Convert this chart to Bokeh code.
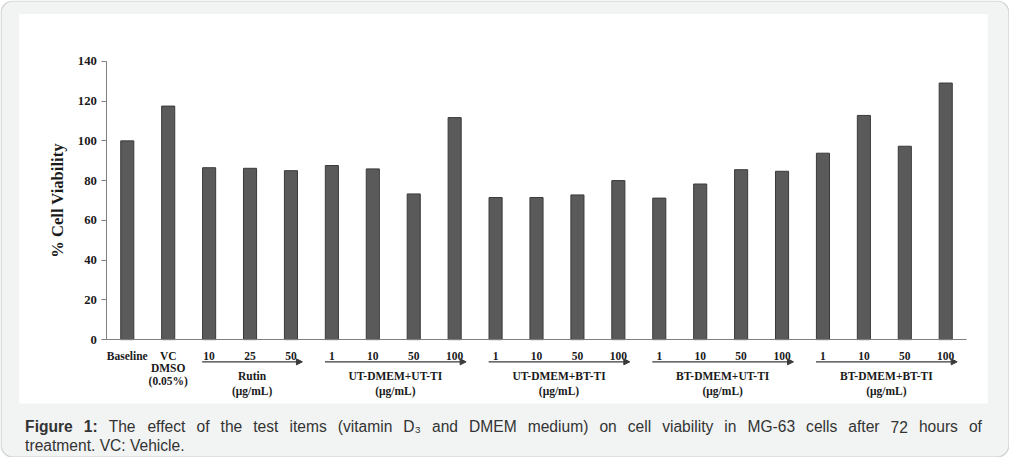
from bokeh.plotting import figure
from bokeh.models import Range1d, LinearAxis, FixedTicker, BoxAnnotation, Arrow, NormalHead, ColumnDataSource
from bokeh.core.properties import value
from bokeh.embed import file_html
from bokeh.resources import INLINE

# ---------------- data ----------------
tick_labels = ["Baseline", "VC\nDMSO\n(0.05%)",
               "10", "25", "50",
               "1", "10", "50", "100",
               "1", "10", "50", "100",
               "1", "10", "50", "100",
               "1", "10", "50", "100"]
viability = [100.0, 117.5,
             86.5, 86.2, 85.0,
             87.6, 85.9, 73.3, 111.7,
             71.5, 71.5, 72.8, 80.0,
             71.2, 78.3, 85.5, 84.7,
             93.8, 112.8, 97.3, 129.1]
groups = ["Rutin", "UT-DMEM+UT-TI", "UT-DMEM+BT-TI", "BT-DMEM+UT-TI", "BT-DMEM+BT-TI"]
group_first = [2, 5, 9, 13, 17]
group_last = [4, 8, 12, 16, 20]
group_unit = "(\u03bcg/mL)"
y_ticks = [0, 20, 40, 60, 80, 100, 120, 140]
y_label = "% Cell Viability"
caption_bold = ["Figure", "1:"]
caption_words = ["The", "effect", "of", "the", "test", "items", "(vitamin", "D", "and", "DMEM",
                 "medium)", "on", "cell", "viability", "in", "MG-63", "cells", "after", "72",
                 "hours", "of"]
caption_sub = "3"
caption_line2 = "treatment. VC: Vehicle."

# ---------------- layout helpers (reference pixel -> figure pixel) ----------------
W, H = 1009, 457
RW, RH = 1025, 473
SX, SY = W / RW, H / RH
FS = (SX + SY) / 2
def fx(a):
    return a * SX
def fy(a):
    return (RH - a) * SY
def fsz(v):
    return "%.1fpx" % (v * FS)

p = figure(width=W, height=H, x_range=Range1d(0, W), y_range=Range1d(0, H),
           x_axis_type=None, y_axis_type=None, toolbar_location=None,
           output_backend="svg", min_border=0, outline_line_color=None,
           background_fill_color="white", border_fill_color="white")

# plot-area mapping through named ranges
px_l, px_r = fx(108), fx(981)
xa, xb = -0.5, len(viability) - 0.5
kx = (xb - xa) / (px_r - px_l)
py_b, py_t = fy(351), fy(63)
ya, yb = 0.0, 140.0
ky = (yb - ya) / (py_t - py_b)
p.extra_x_ranges = {"barx": Range1d(xa - px_l * kx, xb + (W - px_r) * kx)}
p.extra_y_ranges = {"bary": Range1d(ya - py_b * ky, yb + (H - py_t) * ky)}

# card + white panel
card = BoxAnnotation(left=0.5, right=W - 0.5, bottom=0.5, top=H - 0.5,
                     fill_color="#f2f3f3", fill_alpha=1, line_color="#7a7a7a",
                     line_width=1.2, border_radius=12, level="underlay")
p.add_layout(card)
p.quad(left=[fx(19)], right=[fx(1003)], bottom=[fy(417)], top=[fy(14)],
       fill_color="white", line_color=None)

# bars
xs = list(range(len(viability)))
p.vbar(x=xs, top=viability, bottom=0, width=0.32,
       x_range_name="barx", y_range_name="bary",
       fill_color="#5a5a5a", line_color="#3a3a3a", line_width=1)

# axes
serif = "Liberation Serif"
yax = LinearAxis(x_range_name="barx", y_range_name="bary", fixed_location=xa,
                 bounds=(0, 140), ticker=FixedTicker(ticks=y_ticks),
                 axis_label=y_label)
yax.major_tick_out = 5
yax.major_tick_in = 0
yax.minor_tick_out = 0
yax.minor_tick_in = 0
yax.axis_line_color = "#7f7f7f"
yax.major_tick_line_color = "#7f7f7f"
yax.major_label_text_font = serif
yax.major_label_text_font_style = "bold"
yax.major_label_text_font_size = fsz(13)
yax.major_label_text_color = "#1a1a1a"
yax.major_label_standoff = 5
yax.axis_label_text_font = serif
yax.axis_label_text_font_style = "bold"
yax.axis_label_text_font_size = fsz(17)
yax.axis_label_text_color = "#1a1a1a"
yax.axis_label_standoff = 7
p.add_layout(yax, "left")

xax = LinearAxis(x_range_name="barx", y_range_name="bary", fixed_location=0,
                 bounds=(xa, xb), ticker=FixedTicker(ticks=[]))
xax.major_tick_out = 0
xax.major_tick_in = 0
xax.minor_tick_out = 0
xax.minor_tick_in = 0
xax.major_label_text_font_size = "0px"
xax.axis_line_color = "#7f7f7f"
p.add_layout(xax, "below")

# category tick labels (multi-row)
row_y = [368, 380, 394]
lx, ly, lt = [], [], []
for i, lab in enumerate(tick_labels):
    for j, part in enumerate(lab.split("\n")):
        lx.append(i)
        ly.append(fy(row_y[j]))
        lt.append(part)
p.text(x=lx, y=ly, text=lt, x_range_name="barx",
       text_font=value(serif), text_font_style="bold", text_font_size=fsz(11.8),
       text_color="#1a1a1a", text_align="center", text_baseline="alphabetic")

# group arrows and labels
arr = ColumnDataSource(dict(
    xs=[f - 0.17 for f in group_first], xe=[l + 0.28 for l in group_last],
    ys=[fy(374)] * len(groups), ye=[fy(374)] * len(groups)))
p.add_layout(Arrow(x_start="xs", y_start="ys", x_end="xe", y_end="ye", source=arr,
                   x_range_name="barx", line_color="#3a3a3a", line_width=1.2,
                   end=NormalHead(size=6, fill_color="#3a3a3a", line_color="#3a3a3a")))
gx = [(f + l) / 2 + 0.05 for f, l in zip(group_first, group_last)]
p.text(x=gx + gx, y=[fy(388.5)] * len(groups) + [fy(404)] * len(groups),
       text=groups + [group_unit] * len(groups), x_range_name="barx",
       text_font=value(serif), text_font_style="bold", text_font_size=fsz(11.8),
       text_color="#1a1a1a", text_align="center", text_baseline="alphabetic")

# caption (justified first line)
reg_w = {"a": 556, "b": 556, "c": 500, "d": 556, "e": 556, "f": 278, "h": 556, "i": 222,
         "l": 222, "m": 833, "n": 556, "o": 556, "r": 333, "s": 500, "t": 278, "u": 556,
         "v": 500, "y": 500, "(": 333, ")": 333, "-": 333, "D": 722, "E": 667, "G": 778,
         "M": 833, "T": 667, "C": 722, "V": 667, ".": 278, ":": 278}
bold_w = {"F": 611, "i": 278, "g": 611, "u": 611, "r": 389, "e": 556, "1": 556, ":": 333}
fs, fs_sub = 16.0 * FS, 10.0 * FS
def wid(word, table, size):
    return sum(table.get(ch, 556) for ch in word) * size / 1000.0
sub_after = caption_words.index("D")
words = [(w, True) for w in caption_bold] + [(w, False) for w in caption_words]
widths = []
for k, (w, b) in enumerate(words):
    ww = wid(w, bold_w if b else reg_w, fs)
    if not b and (k - len(caption_bold)) == sub_after:
        ww += wid(caption_sub, reg_w, fs_sub) + 1
    widths.append(ww)
x0, x1 = fx(25), fx(997)
gap = (x1 - x0 - sum(widths)) / (len(words) - 1)
pos = []
cur = x0
for ww in widths:
    pos.append(cur)
    cur += ww + gap
nb = len(caption_bold)
cap_y = fy(441)
p.text(x=pos[:nb], y=[cap_y] * nb, text=caption_bold,
       text_font=value("Liberation Sans"), text_font_style="bold", text_font_size="%.1fpx" % fs,
       text_color="#333333", text_baseline="alphabetic")
p.text(x=pos[nb:], y=[cap_y] * len(caption_words), text=caption_words,
       text_font=value("Liberation Sans"), text_font_size="%.1fpx" % fs,
       text_color="#333333", text_baseline="alphabetic")
d_idx = nb + sub_after
p.text(x=[pos[d_idx] + wid("D", reg_w, fs) + 0.5], y=[fy(445)], text=[caption_sub],
       text_font=value("Liberation Sans"), text_font_size="%.1fpx" % fs_sub,
       text_color="#333333", text_baseline="alphabetic")
p.text(x=[fx(25)], y=[fy(461)], text=[caption_line2],
       text_font=value("Liberation Sans"), text_font_size="%.1fpx" % fs,
       text_color="#333333", text_baseline="alphabetic")

open("out.html", "w").write(file_html(p, INLINE))
